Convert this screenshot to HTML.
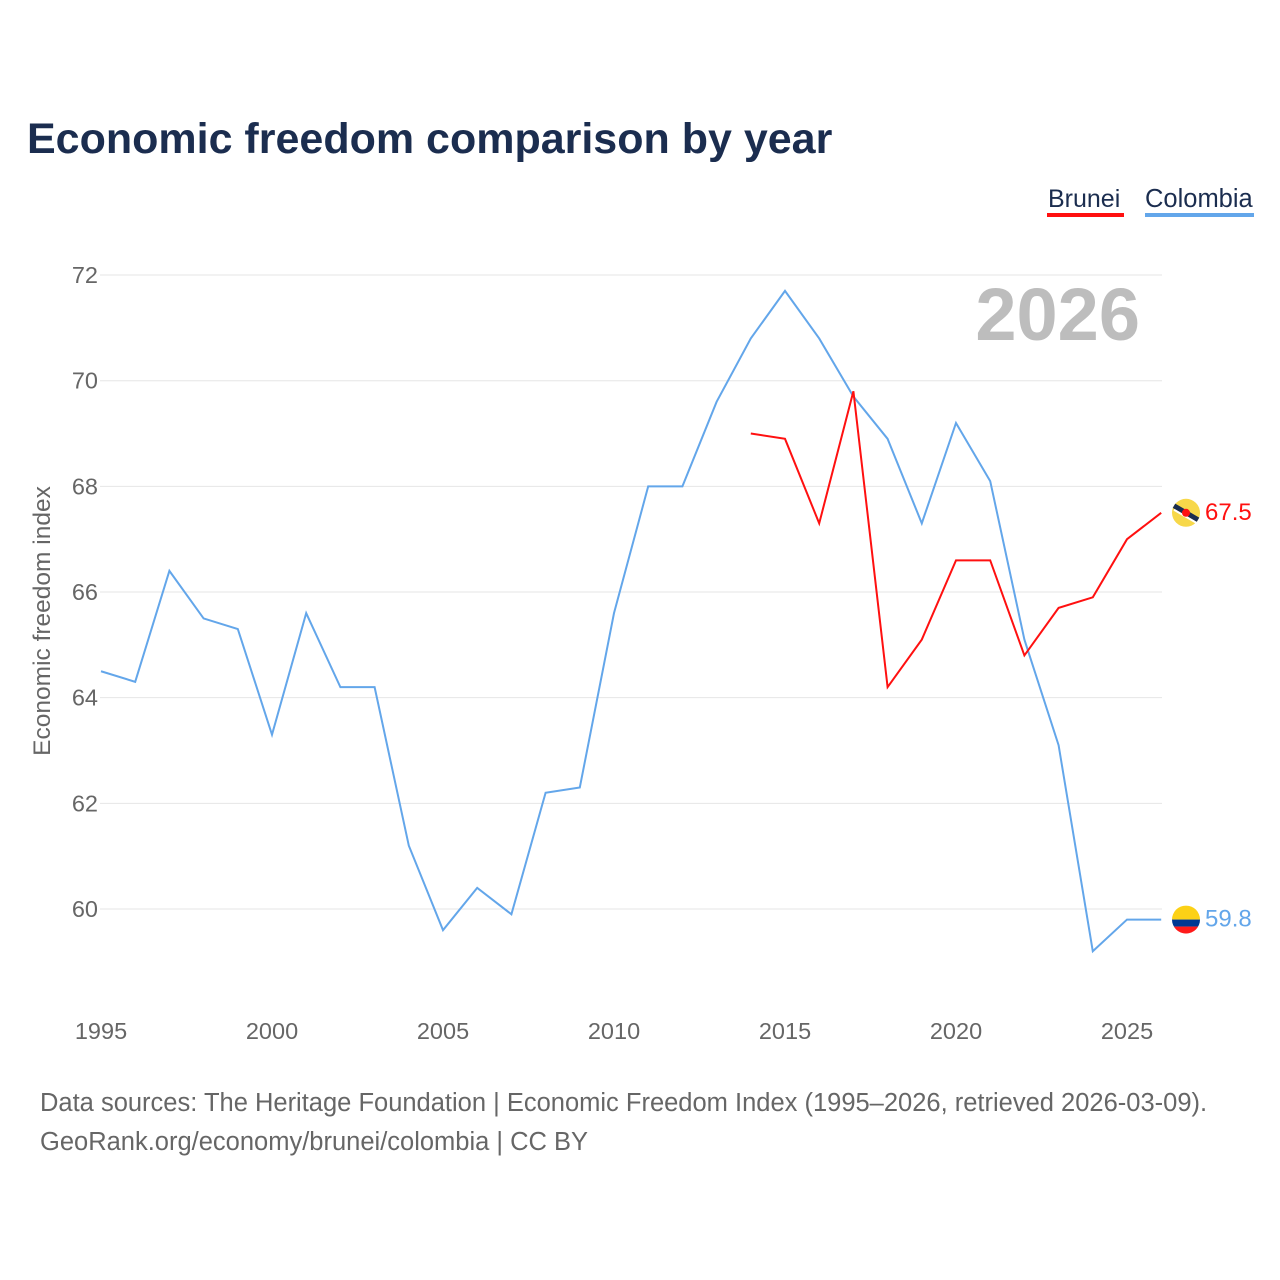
<!DOCTYPE html>
<html><head><meta charset="utf-8"><style>
body{margin:0;background:#fff;font-family:"Liberation Sans",sans-serif}
#wrap{position:relative;width:1280px;height:1280px;overflow:hidden}
</style></head><body>
<div id="wrap">
<svg id="chart" width="1280" height="1280">
<text x="27" y="153" font-size="43" font-weight="bold" fill="#1b2d4f">Economic freedom comparison by year</text>
<g><text x="1048" y="207" font-size="25" fill="#1b2d4f">Brunei</text><rect x="1047" y="213" width="77" height="4" fill="#ff1010"/></g>
<g><text x="1145" y="207" font-size="25.5" fill="#1b2d4f">Colombia</text><rect x="1145" y="213" width="109" height="4" fill="#63a6ea"/></g>
<text x="1140" y="340" font-size="74" font-weight="bold" fill="#bdbdbd" text-anchor="end">2026</text>
<text transform="translate(50,621) rotate(-90)" font-size="24.5" fill="#666" text-anchor="middle">Economic freedom index</text>
<g id="grid"></g><g id="lines"></g><g id="ends"></g>
<text x="40" y="1111" font-size="25.5" fill="#666">Data sources: The Heritage Foundation | Economic Freedom Index (1995–2026, retrieved 2026-03-09).</text>
<text x="40" y="1150" font-size="25.5" fill="#666">GeoRank.org/economy/brunei/colombia | CC BY</text>
</svg></div>
<script>
const yTicks=[60,62,64,66,68,70,72];
const xTicks=[1995,2000,2005,2010,2015,2020,2025];
const colombiaYears=[1995,1996,1997,1998,1999,2000,2001,2002,2003,2004,2005,2006,2007,2008,2009,2010,2011,2012,2013,2014,2015,2016,2017,2018,2019,2020,2021,2022,2023,2024,2025,2026];
const colombiaValues=[64.5,64.3,66.4,65.5,65.3,63.3,65.6,64.2,64.2,61.2,59.6,60.4,59.9,62.2,62.3,65.6,68.0,68.0,69.6,70.8,71.7,70.8,69.7,68.9,67.3,69.2,68.1,65.1,63.1,59.2,59.8,59.8];
const bruneiYears=[2014,2015,2016,2017,2018,2019,2020,2021,2022,2023,2024,2025,2026];
const bruneiValues=[69.0,68.9,67.3,69.8,64.2,65.1,66.6,66.6,64.8,65.7,65.9,67.0,67.5];
const NS="http://www.w3.org/2000/svg";
const xS=y=>101+(y-1995)*34.2;
const yS=v=>909-(v-60)*52.83;
function mk(t,a,p){const e=document.createElementNS(NS,t);for(const k in a)e.setAttribute(k,a[k]);p.appendChild(e);return e;}
const grid=document.getElementById('grid');
yTicks.forEach(v=>{
 const l=mk('line',{x1:100,x2:1162,y1:yS(v),y2:yS(v),stroke:'#e6e6e6','stroke-width':1},grid);
 
 
 const t=mk('text',{x:98,y:yS(v)+8,'font-size':23.5,fill:'#666','text-anchor':'end'},grid);
 t.textContent=v;
 
 
});
xTicks.forEach(y=>{
 const t=mk('text',{x:xS(y),y:1039,'font-size':23.5,fill:'#666','text-anchor':'middle'},grid);
 t.textContent=y;
 
 
});
const lines=document.getElementById('lines');
function series(ys,vs,c,name){
 const p=mk('polyline',{points:ys.map((y,i)=>xS(y)+','+yS(vs[i])).join(' '),fill:'none',stroke:c,'stroke-width':2,'stroke-linejoin':'miter'},lines);
 
 
}
series(colombiaYears,colombiaValues,'#63a6ea','colombia-line');
series(bruneiYears,bruneiValues,'#ff1010','brunei-line');
const ends=document.getElementById('ends');
const cv=colombiaValues[colombiaValues.length-1], bv=bruneiValues[bruneiValues.length-1];
let cy=yS(cv), by=yS(bv);
const cg=mk('g',{},ends);


mk('clipPath',{id:'cc'},cg).appendChild(document.createElementNS(NS,'circle'));
const cc=cg.querySelector('#cc circle');cc.setAttribute('cx',1186);cc.setAttribute('cy',cy);cc.setAttribute('r',14);
mk('rect',{x:1172,y:cy-14,width:28,height:14,fill:'#fcd116','clip-path':'url(#cc)'},cg);
mk('rect',{x:1172,y:cy,width:28,height:7,fill:'#003893','clip-path':'url(#cc)'},cg);
mk('rect',{x:1172,y:cy+7,width:28,height:7,fill:'#ff1a1a','clip-path':'url(#cc)'},cg);
const ct=mk('text',{x:1205,y:cy+7,'font-size':24,fill:'#63a6ea'},ends);
ct.textContent=cv.toFixed(1);


const bg=mk('g',{},ends);


mk('circle',{cx:1186,cy:by,r:14,fill:'#f7d84a'},bg);
mk('line',{x1:1174,y1:by-7,x2:1198,y2:by+7,stroke:'#1b2d4f','stroke-width':5},bg);
mk('line',{x1:1174,y1:by-3,x2:1198,y2:by+11,stroke:'#fff','stroke-width':2},bg);
mk('circle',{cx:1186,cy:by,r:4,fill:'#ff1010'},bg);
const bt=mk('text',{x:1205,y:by+7,'font-size':24,fill:'#ff1010'},ends);
bt.textContent=bv.toFixed(1);


</script>
</body></html>
